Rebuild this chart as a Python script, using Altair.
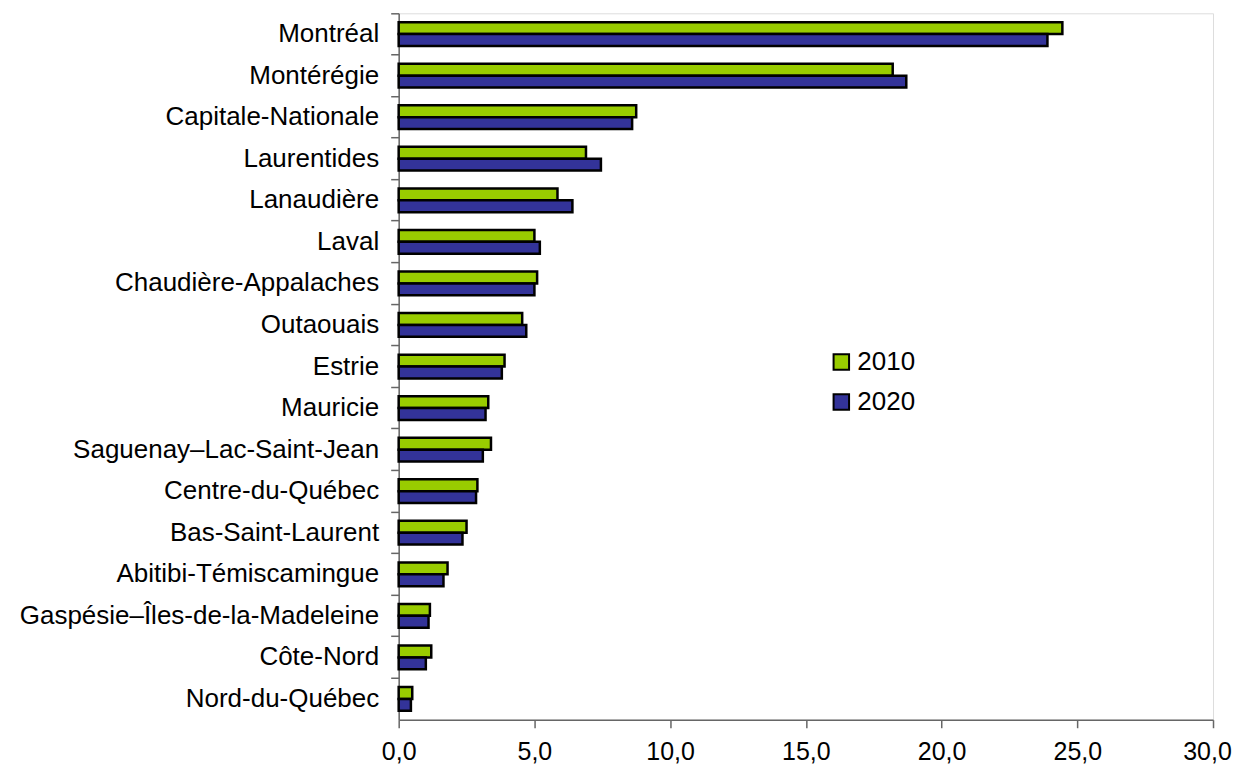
import altair as alt
import pandas as pd

regions = ["Montréal", "Montérégie", "Capitale-Nationale", "Laurentides", "Lanaudière",
           "Laval", "Chaudière-Appalaches", "Outaouais", "Estrie", "Mauricie",
           "Saguenay–Lac-Saint-Jean", "Centre-du-Québec", "Bas-Saint-Laurent",
           "Abitibi-Témiscamingue", "Gaspésie–Îles-de-la-Madeleine", "Côte-Nord",
           "Nord-du-Québec"]
v2010 = [24.45, 18.2, 8.75, 6.9, 5.85, 5.0, 5.1, 4.55, 3.9, 3.3, 3.4, 2.9, 2.5, 1.8, 1.15, 1.2, 0.5]
v2020 = [23.9, 18.7, 8.6, 7.45, 6.4, 5.2, 5.0, 4.7, 3.8, 3.2, 3.1, 2.85, 2.35, 1.65, 1.1, 1.0, 0.45]
years = ["2010", "2020"]
colors = ["#99CC00", "#333399"]
x_ticks = [0, 5, 10, 15, 20, 25, 30]

rows = []
for r, a, b in zip(regions, v2010, v2020):
    rows.append({"region": r, "year": years[0], "value": a})
    rows.append({"region": r, "year": years[1], "value": b})
df = pd.DataFrame(rows)

font = "Liberation Sans"
fs = 26

chart = alt.Chart(df).mark_bar(stroke="black", strokeWidth=2.5).encode(
    y=alt.Y("region:N", sort=regions, title=None,
            scale=alt.Scale(paddingInner=0, paddingOuter=0),
            axis=alt.Axis(bandPosition=0, tickSize=8, labelPadding=12,
                          labelFontSize=fs, labelColor="black", labelFont=font,
                          domainColor="#666", tickColor="#666", domainWidth=1.5,
                          tickWidth=1.5, labelLimit=600)),
    yOffset=alt.YOffset("year:N", sort=years,
                        scale=alt.Scale(paddingInner=0, paddingOuter=0.75)),
    x=alt.X("value:Q", title=None,
            scale=alt.Scale(domain=[0, 30], nice=False),
            axis=alt.Axis(values=x_ticks, tickSize=8, labelPadding=12, grid=False,
                          labelFlush=False,
                          labelOffset={"condition": {"test": "datum.value === 30", "value": -6},
                                       "value": 0},
                          labelFontSize=25, labelColor="black", labelFont=font,
                          domainColor="#666", tickColor="#666", domainWidth=1.5,
                          tickWidth=1.5,
                          labelExpr="replace(format(datum.value, '.1f'), '.', ',')")),
    color=alt.Color("year:N", sort=years,
                    scale=alt.Scale(domain=years, range=colors),
                    legend=alt.Legend(title=None, orient="none", legendX=430, legendY=336,
                                      symbolType="square", symbolSize=240,
                                      symbolStrokeColor="black", symbolStrokeWidth=2,
                                      labelFontSize=fs, labelFont=font, labelColor="black",
                                      rowPadding=14, labelOffset=3, symbolOpacity=1)),
).properties(
    width=815, height=707,
    autosize=alt.AutoSizeParams(type="none"),
    padding={"left": 391, "top": 5, "right": 20, "bottom": 48},
).configure_view(stroke=None).configure(background="white")

chart.save("out.html", embed_options={"renderer": "svg", "actions": False})
